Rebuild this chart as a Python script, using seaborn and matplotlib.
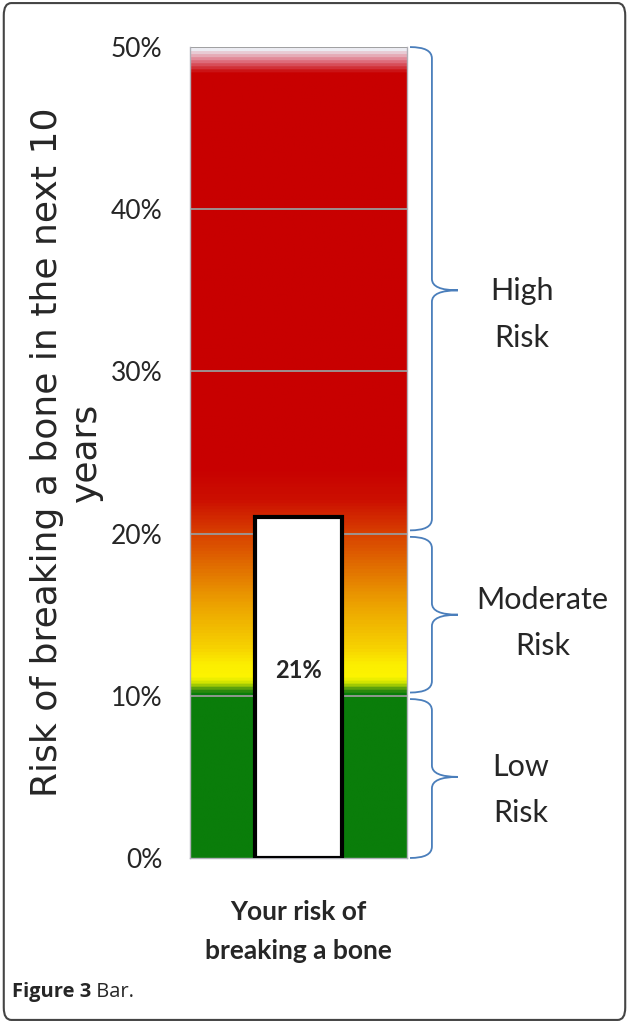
import numpy as np
import seaborn as sns
import matplotlib.pyplot as plt
from matplotlib.colors import LinearSegmentedColormap
from matplotlib.path import Path
from matplotlib.patches import PathPatch, FancyBboxPatch
from matplotlib import transforms

# data
categories = ['Your risk of\nbreaking a bone']
risk_values = [21]
y_ticks = [0, 10, 20, 30, 40, 50]
y_tick_labels = ['0%', '10%', '20%', '30%', '40%', '50%']
zone_names = ['Low\nRisk', 'Moderate\nRisk', 'High\nRisk']
zone_low = [0, 10, 20]
zone_high = [10, 20, 50]

sns.set_style('white')
plt.rcParams['font.family'] = ['Lato', 'DejaVu Sans']

fig = plt.figure(figsize=(6.29, 10.23), dpi=100)
ax = fig.add_axes([0.302, 0.1613, 0.345, 0.7927])

# gradient background (risk colour scale)
stops = [(0, '#0a7d0a'), (10.0, '#0a7d0a'), (10.3, '#3c9010'), (10.7, '#c8e000'),
         (11.1, '#fcf400'), (11.9, '#fcee00'), (13.0, '#f6d000'), (15.7, '#eca000'),
         (18.2, '#e06800'), (20, '#d84000'), (22, '#cc1000'), (24, '#c80000'),
         (48.5, '#c80000'), (49.3, '#e07888'), (50, '#ececf2')]
cmap = LinearSegmentedColormap.from_list('risk', [(v / 50, c) for v, c in stops])
ramp = np.linspace(0, 50, 800).reshape(-1, 1)
ax.imshow(ramp, extent=(-0.5, 0.5, 0, 50), aspect='auto', origin='lower',
          cmap=cmap, vmin=0, vmax=50, zorder=0, interpolation='bilinear')

for t in y_ticks[1:]:
    ax.axhline(t, color='#9a9a9a', lw=1.3, zorder=1)

sns.barplot(x=categories, y=risk_values, width=0.4, color='white',
            edgecolor='black', linewidth=3, ax=ax, zorder=3)
ax.patches[0].set_facecolor('white')
ax.text(0, risk_values[0] * 0.55, f'{risk_values[0]}%', ha='center', va='center',
        fontsize=17, fontweight='bold', zorder=4)

ax.set_xlim(-0.5, 0.5)
ax.set_ylim(0, 50)
ax.set_yticks(y_ticks)
ax.set_yticklabels(y_tick_labels, fontsize=19)
ax.tick_params(axis='y', length=7, width=1.2, color='#d04050', pad=13)
ax.tick_params(axis='x', which='major', length=0, pad=30)
for lab in ax.get_xticklabels():
    lab.set_fontsize(19)
    lab.set_fontweight('bold')
    lab.set_linespacing(1.75)
ax.set_xticks([-0.5, 0.5], minor=True)
ax.tick_params(axis='x', which='minor', length=10, width=1.2, color='#a8a8a8')
ax.set_xlabel('')
ax.set_ylabel('Risk of breaking a bone in the next 10\nyears', fontsize=26,
              fontfamily='DejaVu Sans', linespacing=1.2)
ax.yaxis.set_label_coords(-0.40, 0.5)
ax.spines['top'].set_visible(False)
for s in ['left', 'right', 'bottom']:
    ax.spines[s].set_color('#b0b0b8')
    ax.spines[s].set_linewidth(1)

# braces
trans = transforms.blended_transform_factory(ax.transAxes, ax.transData)
x0, x1, xt, r = 1.014, 1.115, 1.235, 0.7
for name, lo, hi in zip(zone_names, zone_low, zone_high):
    top = hi - (0 if hi == 50 else 0.2)
    bot = lo + (0 if lo == 0 else 0.2)
    mid = (lo + hi) / 2
    verts = [(x0, top), (x1, top), (x1, top - r),
             (x1, mid + r),
             (x1, mid), (xt, mid),
             (x1, mid), (x1, mid - r),
             (x1, bot + r),
             (x1, bot), (x0, bot)]
    codes = [Path.MOVETO, Path.CURVE3, Path.CURVE3, Path.LINETO,
             Path.CURVE3, Path.CURVE3, Path.CURVE3, Path.CURVE3,
             Path.LINETO, Path.CURVE3, Path.CURVE3]
    ax.add_patch(PathPatch(Path(verts, codes), transform=trans, fc='none',
                           ec='#4a7ebb', lw=1.3, clip_on=False))
label_x = {'Low\nRisk': 1.525, 'Moderate\nRisk': 1.625, 'High\nRisk': 1.53}
label_dy = {'Low\nRisk': 1.5, 'Moderate\nRisk': 1.8, 'High\nRisk': 0.8}
for name, lo, hi in zip(zone_names, zone_low, zone_high):
    ax.text(label_x[name], (lo + hi) / 2 + label_dy[name], name, transform=trans,
            ha='center', va='top', fontsize=22, linespacing=1.8)

# caption and frame
cap = fig.text(0.019, 0.021, 'Figure 3', fontsize=14.5, fontweight='bold',
               fontfamily='Open Sans', va='bottom')
ax.annotate(' Bar.', xy=(1, 0), xycoords=cap, fontsize=14.5, fontfamily='Open Sans',
            va='bottom', ha='left')
fig.patches.append(FancyBboxPatch((0.006, 0.003), 0.988, 0.994,
                                  boxstyle='round,pad=0,rounding_size=0.012',
                                  transform=fig.transFigure, fc='none',
                                  ec='#444444', lw=1.5, figure=fig))

fig.savefig('out.png', dpi=100)
